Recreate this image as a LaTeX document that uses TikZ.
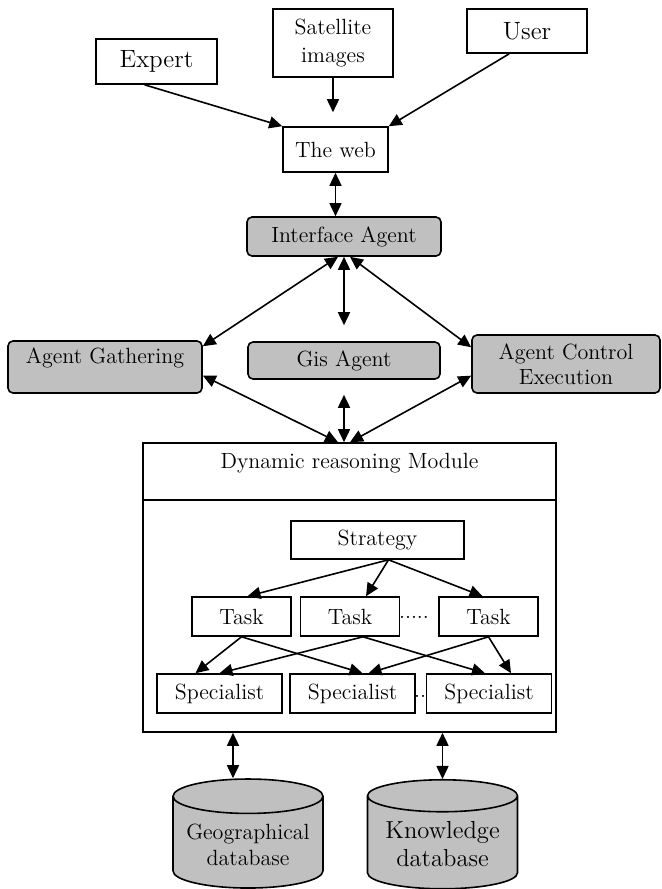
\documentclass[tikz,border=0pt]{standalone}
\usepackage{tikz}
\usetikzlibrary{arrows.meta, positioning, shapes.geometric}
\definecolor{cinza}{HTML}{C0C0C0}

\begin{document}
\begin{tikzpicture}[x=0.5pt, y=-0.5pt,
  font=\fontsize{11}{13}\selectfont,
  caixa/.style={draw, line width=0.8pt, inner sep=1.5pt, align=center},
  agente/.style={caixa, fill=cinza, rounded corners=2.5pt},
  banco/.style={draw, line width=0.8pt, fill=cinza, cylinder, shape border rotate=90, shape aspect=0.27, minimum width=75pt, minimum height=54.5pt, align=center, inner sep=1pt},
  tarefa/.style={caixa, minimum width=49.5pt, minimum height=19.5pt},
  especialista/.style={caixa, minimum width=62.5pt, minimum height=19.5pt},
  seta/.style={line width=0.8pt, -{Triangle[length=6.5pt,width=6pt]}},
  dupla/.style={line width=0.8pt, {Triangle[length=6.5pt,width=6pt]}-{Triangle[length=6.5pt,width=6pt]}}
]
\useasboundingbox (0,0) rectangle (661,889);

% Fontes
\node[caixa, minimum width=60.5pt, minimum height=22.5pt, font=\fontsize{12.5}{15}\selectfont] (expert) at (156.5,61.5) {Expert};
\node[caixa, minimum width=60pt, minimum height=34pt, font=\fontsize{11}{14}\selectfont] (satellite) at (333,43) {Satellite\\images};
\node[caixa, minimum width=60pt, minimum height=22pt, font=\fontsize{12.5}{15}\selectfont] (user) at (527,31) {User};
\node[caixa, minimum width=52.5pt, minimum height=22.5pt] (web) at (335.5,149.5) {The web};

% Agentes
\node[agente, minimum width=97pt, minimum height=19.5pt] (interface) at (344,236.5) {Interface Agent};
\node[agente, minimum width=97pt, minimum height=26pt, text depth=11pt] (gathering) at (105,367) {Agent Gathering};
\node[agente, minimum width=96pt, minimum height=18.5pt] (gis) at (344,360.5) {Gis Agent};
\node[agente, minimum width=94pt, minimum height=29pt, font=\fontsize{11}{12.5}\selectfont] (control) at (566,364) {Agent Control\\Execution};

% Modulo de raciocinio
\node[draw, line width=0.8pt, minimum width=206.5pt, minimum height=144.5pt] (module) at (349.5,587.5) {};
\node[below=2pt of module.north] (title) {Dynamic reasoning Module};
\draw[line width=0.8pt] ([yshift=-29pt]module.north west) -- ([yshift=-29pt]module.north east);

\node[caixa, minimum width=86.5pt, minimum height=19pt] (strategy) at (377.5,540) {Strategy};
\node[tarefa] (task1) at (241.5,616.5) {Task};
\node[tarefa] (task2) at (350,616.5) {Task};
\node[tarefa] (task3) at (488.5,616.5) {Task};
\node[anchor=base, inner sep=0pt] (dotsA) at (414,618) {.....};
\node[especialista] (spec1) at (219.5,693.5) {Specialist};
\node[especialista] (spec2) at (352.5,693.5) {Specialist};
\node[anchor=base, inner sep=0pt] (dotsB) at (420,697) {..};
\node[especialista, fill=white] (spec3) at (489,693.5) {Specialist};

% Bancos de dados
\node[banco] (geodb) at (248,844.5) {Geographical\\database};
\node[banco, font=\fontsize{12.3}{14}\selectfont] (knowdb) at (442.5,844.5) {Knowledge\\database};

% Setas de cima
\draw[seta] (expert.243) -- (web.north west);
\draw[seta, shorten >=7pt] (satellite.south) -- (satellite.south |- web.north);
\draw[seta] (user.232) -- (web.north east);
\draw[dupla] (web.south) -- (web.south |- interface.north);

% Setas entre agentes
\draw[dupla] ([xshift=-3pt]interface.south) -- (gathering.12);
\draw[dupla] ([xshift=3pt]interface.south) -- (control.170);
\draw[dupla, shorten >=8pt] (interface.south) -- (gis.north);
\coordinate (topo) at (gis.south |- module.north);
\draw[dupla] (gathering.355) -- ([xshift=-3pt]topo);
\draw[dupla] (control.187) -- ([xshift=3pt]topo);
\draw[dupla, shorten >=7.5pt] (topo) -- (gis.south);

% Strategy -> Task -> Specialist
\draw[seta] ([xshift=5.5pt]strategy.south) -- ([xshift=3pt]task1.north);
\draw[seta] ([xshift=5.5pt]strategy.south) -- ([xshift=8pt]task2.north);
\draw[seta] ([xshift=5.5pt]strategy.south) -- ([xshift=-3pt]task3.north);
\draw[seta] (task1.south) -- ([xshift=-12pt]spec1.north);
\draw[seta] (task1.south) -- ([xshift=5pt]spec2.north);
\draw[seta] ([xshift=6.5pt]task2.south) -- (spec1.north);
\draw[seta] ([xshift=6.5pt]task2.south) -- ([xshift=-2pt]spec3.north);
\draw[seta] (task3.south) -- ([xshift=8pt]spec2.north);
\draw[seta] (task3.south) -- ([xshift=11pt]spec3.north);

% Ligacao com os bancos
\coordinate (g1) at ([xshift=-7.5pt]geodb.north);
\draw[dupla] (module.south -| g1) -- (g1);
\draw[dupla] (module.south -| knowdb.north) -- (knowdb.north);

\end{tikzpicture}
\end{document}
